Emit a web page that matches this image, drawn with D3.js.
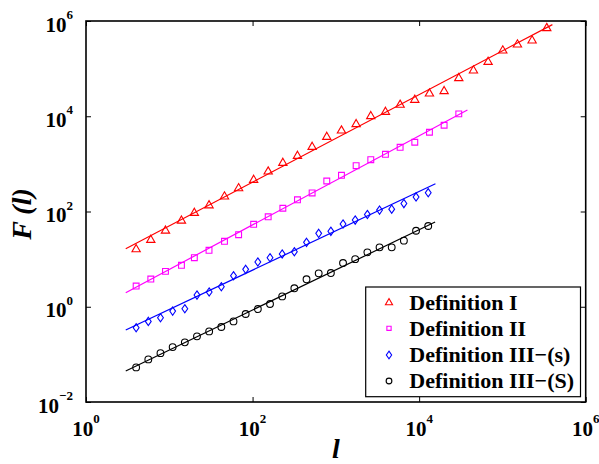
<!DOCTYPE html>
<html>
<head>
<meta charset="utf-8">
<script src="https://cdn.jsdelivr.net/npm/d3@7"></script>
<style>
  html, body { margin: 0; padding: 0; background: #fff; }
  svg { display: block; }
</style>
</head>
<body>
<svg id="chart" width="599" height="464" font-family="'Liberation Serif', 'Times New Roman', Times, 'DejaVu Serif', serif"></svg>
<script>
// ---- data ----
const xTicks = [1, 1e2, 1e4, 1e6];
const xTickExp = ["0", "2", "4", "6"];
const yTicks = [1e-2, 1, 1e2, 1e4, 1e6];
const yTickExp = ["\u22122", "0", "2", "4", "6"];

const seriesNames = ["Definition I", "Definition II", "Definition III\u2212(s)", "Definition III\u2212(S)"];

const xDef1 = [4, 6, 9, 14, 20, 30, 46, 68, 103, 154, 231, 346, 519, 778, 1168, 1752, 2627, 3941, 5912, 8867, 13301, 19951, 29927, 44890, 67336, 101004, 151505, 227258, 340887];
const yDef1 = [16.1, 25.2, 39.5, 64, 93, 134, 205, 307, 459, 686, 1045, 1466, 2265, 3673, 4980, 6790, 10000, 12300, 17300, 22000, 29800, 33500, 62800, 90700, 138000, 239000, 319000, 387000, 706000];

const xDef2 = [4, 6, 9, 14, 20, 30, 46, 68, 103, 154, 231, 346, 519, 778, 1168, 1752, 2627, 3941, 5912, 8867, 13301, 19951, 29927];
const yDef2 = [2.72, 3.82, 5.54, 7.41, 10.7, 15.3, 23.7, 32.6, 53.8, 77.4, 117, 176, 245, 437, 576, 917, 1225, 1591, 2233, 2844, 4613, 6470, 11200];

const xDef3s = [4, 5.6, 7.84, 10.98, 15.37, 21.51, 30.12, 42.16, 59.03, 82.64, 115.7, 162, 226.8, 317.5, 444.5, 622.3, 871.2, 1219.7, 1707.6, 2390.6, 3346.9, 4685.6, 6559.9, 9183.8, 12857];
const yDef3s = [0.362, 0.493, 0.587, 0.81, 0.908, 1.76, 2.04, 2.63, 4.48, 6.1, 8.7, 10.7, 12.8, 14.3, 22.5, 34.8, 38.4, 54.6, 66.2, 86.4, 107, 112, 147, 202, 248];

const xDef3S = [4, 5.6, 7.84, 10.98, 15.37, 21.51, 30.12, 42.16, 59.03, 82.64, 115.7, 162, 226.8, 317.5, 444.5, 622.3, 871.2, 1219.7, 1707.6, 2390.6, 3346.9, 4685.6, 6559.9, 9183.8, 12857];
const yDef3S = [0.0533, 0.0785, 0.106, 0.142, 0.179, 0.239, 0.304, 0.375, 0.493, 0.703, 0.895, 1.14, 1.65, 2.44, 3.77, 5.03, 5.1, 8.28, 10.0, 13.9, 17.7, 17.7, 24.4, 39.5, 49.6];

// fitted power-law lines (endpoints)
const fitXDef1 = [3, 398000],  fitYDef1 = [16.5, 840000];
const fitXDef2 = [3, 38000],   fitYDef2 = [1.97, 13550];
const fitXDef3s = [3, 15700],  fitYDef3s = [0.324, 384];
const fitXDef3S = [3, 15560],  fitYDef3S = [0.0446, 60.1];

// ---- layout / style ----
const FONT = "'Liberation Serif', 'Times New Roman', Times, 'DejaVu Serif', serif";
const colors = ["#ff0000", "#ff00ff", "#0000ff", "#000000"];
const plot = { left: 86, right: 585.7, top: 21, bottom: 402 };

const svg = d3.select("#chart");
const x = d3.scaleLog().domain([1, 1e6]).range([plot.left, plot.right]);
const y = d3.scaleLog().domain([1e-2, 1e6]).range([plot.bottom, plot.top]);

// custom diamond (narrower than tall)
const diamondType = {
  draw(ctx, size) {
    const h = Math.sqrt(size) * 0.72, w = h * 0.7;
    ctx.moveTo(0, -h); ctx.lineTo(w, 0); ctx.lineTo(0, h); ctx.lineTo(-w, 0); ctx.closePath();
  }
};
const symTypes = [d3.symbolTriangle, d3.symbolSquare, diamondType, d3.symbolCircle];
const symSizes = [30, 34, 33, 36];
const legSizes = [22, 18, 28, 26];

const series = [
  { xs: xDef1, ys: yDef1, fx: fitXDef1, fy: fitYDef1 },
  { xs: xDef2, ys: yDef2, fx: fitXDef2, fy: fitYDef2 },
  { xs: xDef3s, ys: yDef3s, fx: fitXDef3s, fy: fitYDef3s },
  { xs: xDef3S, ys: yDef3S, fx: fitXDef3S, fy: fitYDef3S }
];

// axes ticks (inward, mirrored)
const tickLen = 5;
const axB = d3.axisBottom(x).tickValues(xTicks).tickSize(-tickLen).tickFormat("");
const axT = d3.axisTop(x).tickValues(xTicks).tickSize(-tickLen).tickFormat("");
const axL = d3.axisLeft(y).tickValues(yTicks).tickSize(-tickLen).tickFormat("");
const axR = d3.axisRight(y).tickValues(yTicks).tickSize(-tickLen).tickFormat("");
function styleAxis(g) {
  g.select(".domain").remove();
  g.selectAll(".tick line").attr("stroke", "#000").attr("stroke-width", 1);
}
svg.append("g").attr("transform", `translate(0,${plot.bottom})`).call(axB).call(styleAxis);
svg.append("g").attr("transform", `translate(0,${plot.top})`).call(axT).call(styleAxis);
svg.append("g").attr("transform", `translate(${plot.left},0)`).call(axL).call(styleAxis);
svg.append("g").attr("transform", `translate(${plot.right},0)`).call(axR).call(styleAxis);

// frame
svg.append("rect")
  .attr("x", plot.left).attr("y", plot.top)
  .attr("width", plot.right - plot.left).attr("height", plot.bottom - plot.top)
  .attr("fill", "none").attr("stroke", "#000").attr("stroke-width", 1.6);

// tick labels
const xl = svg.append("g");
xTicks.forEach((t, i) => {
  const txt = xl.append("text")
    .attr("x", x(t)).attr("y", 435.5)
    .attr("text-anchor", "middle").attr("font-family", FONT)
    .attr("font-weight", "bold").attr("font-size", 21);
  txt.append("tspan").text("10");
  txt.append("tspan").attr("font-size", 13).attr("dy", -12.5).text(xTickExp[i]);
});
const yl = svg.append("g");
yTicks.forEach((t, i) => {
  const txt = yl.append("text")
    .attr("x", 73).attr("y", y(t) + 10.5)
    .attr("text-anchor", "end").attr("font-family", FONT)
    .attr("font-weight", "bold").attr("font-size", 21);
  txt.append("tspan").text("10");
  txt.append("tspan").attr("font-size", 13).attr("dy", -12.5).text(yTickExp[i]);
});

// axis titles
svg.append("text")
  .attr("transform", "translate(31,214) rotate(-90)")
  .attr("text-anchor", "middle").attr("font-family", FONT)
  .attr("font-weight", "bold").attr("font-style", "italic").attr("font-size", 28)
  .text("F (l)");
svg.append("text")
  .attr("x", 336).attr("y", 457.5)
  .attr("text-anchor", "middle").attr("font-family", FONT)
  .attr("font-weight", "bold").attr("font-style", "italic").attr("font-size", 28)
  .text("l");

// fit lines + markers
const line = d3.line().x(d => x(d[0])).y(d => y(d[1]));
series.forEach((s, i) => {
  const pts = s.fx.map((v, k) => [v, s.fy[k]]);
  svg.append("path").attr("d", line(pts))
    .attr("fill", "none").attr("stroke", colors[i]).attr("stroke-width", 1.2);
  const sym = d3.symbol().type(symTypes[i]).size(symSizes[i]);
  svg.append("g").selectAll("path")
    .data(s.xs.map((v, k) => [v, s.ys[k]]))
    .join("path")
    .attr("transform", d => `translate(${x(d[0])},${y(d[1])})`)
    .attr("d", sym())
    .attr("fill", "none").attr("stroke", colors[i]).attr("stroke-width", 1.1);
});

// legend
const leg = svg.append("g");
leg.append("rect")
  .attr("x", 365.7).attr("y", 287).attr("width", 214.8).attr("height", 109.7)
  .attr("fill", "#fff").attr("stroke", "#000").attr("stroke-width", 1.2);
const rowY = [302.7, 328.3, 355, 381];
seriesNames.forEach((name, i) => {
  leg.append("path")
    .attr("transform", `translate(389,${rowY[i]})`)
    .attr("d", d3.symbol().type(symTypes[i]).size(legSizes[i])())
    .attr("fill", "none").attr("stroke", colors[i]).attr("stroke-width", 1.1);
  leg.append("text")
    .attr("x", 409.3).attr("y", rowY[i] + 7.3).attr("font-family", FONT)
    .attr("font-weight", "bold").attr("font-size", 22)
    .text(name);
});
</script>
</body>
</html>
